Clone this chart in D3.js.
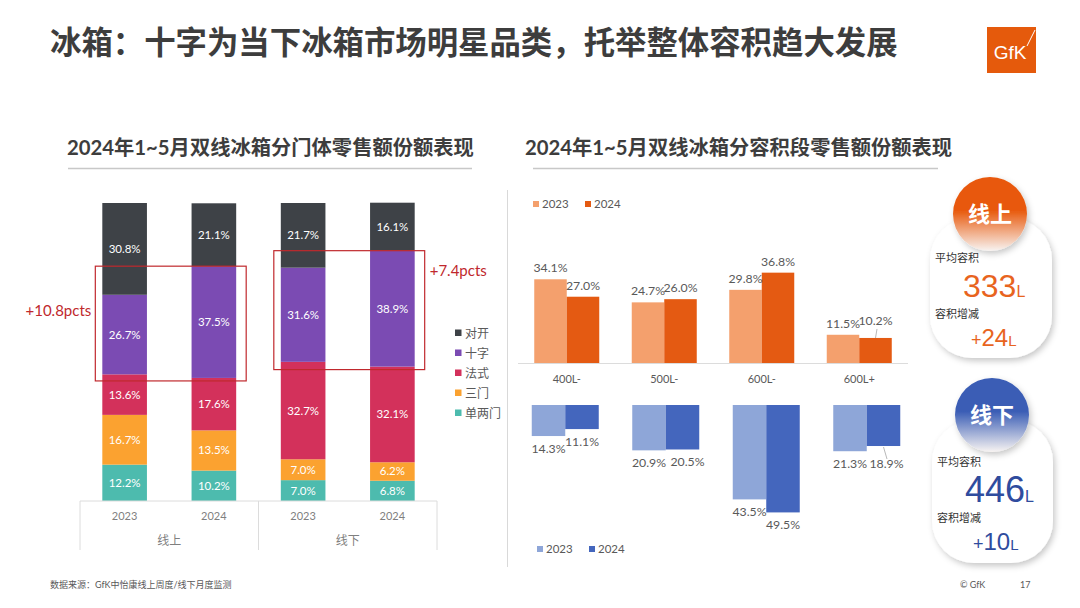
<!DOCTYPE html>
<html><head><meta charset="utf-8">
<script src="https://cdn.jsdelivr.net/npm/d3@7"></script>
<style>body{margin:0;background:#fff;} svg{display:block;font-family:Lato,'Noto Sans CJK SC',sans-serif;}</style>
</head><body><svg id="c" width="1080" height="608"></svg>
<script>
// ---------------- data ----------------
const pageTitle = "冰箱：十字为当下冰箱市场明星品类，托举整体容积趋大发展";
const leftTitle = "2024年1~5月双线冰箱分门体零售额份额表现";
const rightTitle = "2024年1~5月双线冰箱分容积段零售额份额表现";
const channels = ["线上", "线下"];
const years = ["2023", "2024"];
const doorTypes = ["单两门", "三门", "法式", "十字", "对开"]; // bottom -> top
const online2023Door = [12.2, 16.7, 13.6, 26.7, 30.8];
const online2024Door = [10.2, 13.5, 17.6, 37.5, 21.1];
const offline2023Door = [7.0, 7.0, 32.7, 31.6, 21.7];
const offline2024Door = [6.8, 6.2, 32.1, 38.9, 16.1];
const pctsLabels = ["+10.8pcts", "+7.4pcts"];
const sizeSegments = ["400L-", "500L-", "600L-", "600L+"];
const online2023Size = [34.1, 24.7, 29.8, 11.5];
const online2024Size = [27.0, 26.0, 36.8, 10.2];
const offline2023Size = [14.3, 20.9, 43.5, 21.3];
const offline2024Size = [11.1, 20.5, 49.5, 18.9];
const avgVolume = [333, 446];
const volumeChange = [24, 10];
const avgLabel = "平均容积";
const changeLabel = "容积增减";
const sourceNote = "数据来源：GfK中怡康线上周度/线下月度监测";

// ---------------- setup ----------------
const svg = d3.select("#c");
const defs = svg.append("defs");
const grey = "#595959";

// page title
svg.append("text").attr("x", 50).attr("y", 54)
  .attr("font-size", 31.4).attr("font-weight", 700).attr("fill", "#3d3d3d")
  .style("font-family", "'Noto Sans CJK SC',sans-serif").text(pageTitle);

// logo
svg.append("rect").attr("x", 987).attr("y", 27).attr("width", 49).attr("height", 46).attr("fill", "#E55A0C");
svg.append("text").attr("x", 1010).attr("y", 59).attr("text-anchor", "middle")
  .attr("font-size", 19).attr("fill", "#fff").style("font-family", "'Liberation Sans',Arial,sans-serif").text("GfK");
svg.append("line").attr("x1", 1035).attr("y1", 30).attr("x2", 1027).attr("y2", 46).attr("stroke", "#fff").attr("stroke-width", 1);

// section titles
[[leftTitle, 67, 68, 472], [rightTitle, 525, 533, 938]].forEach(([t, tx, l1, l2]) => {
  svg.append("text").attr("x", tx).attr("y", 155).attr("font-size", 20.3).attr("font-weight", 700)
    .attr("fill", "#3d3d3d").text(t);
  svg.append("line").attr("x1", l1).attr("x2", l2).attr("y1", 168.5).attr("y2", 168.5)
    .attr("stroke", "#c8c8c8").attr("stroke-width", 1.5);
});

// divider
svg.append("line").attr("x1", 507.5).attr("x2", 507.5).attr("y1", 190).attr("y2", 567).attr("stroke", "#d9d9d9");

// ---------------- left stacked chart ----------------
const doorSeries = [online2023Door, online2024Door, offline2023Door, offline2024Door];
const rows = [];
channels.forEach((c, ci) => years.forEach((y, yi) => {
  const vals = doorSeries[ci * 2 + yi];
  const r = {key: c + "|" + y, channel: c, year: y};
  doorTypes.forEach((d, di) => r[d] = vals[di]);
  rows.push(r);
}));
const doorColors = d3.scaleOrdinal().domain(doorTypes)
  .range(["#4DBBAE", "#FBA230", "#D3315B", "#7B4BB3", "#3E4247"]);
const xL = d3.scaleBand().domain(rows.map(r => r.key)).range([80, 437]).paddingInner(0.5).paddingOuter(0.25);
const yL = d3.scaleLinear().domain([0, 100]).range([501, 203]);
const stacked = d3.stack().keys(doorTypes)(rows);

const gL = svg.append("g");
stacked.forEach(layer => {
  gL.selectAll(null).data(layer).join("rect")
    .attr("x", d => xL(d.data.key)).attr("width", xL.bandwidth())
    .attr("y", d => yL(d[1])).attr("height", d => yL(d[0]) - yL(d[1]))
    .attr("fill", doorColors(layer.key));
  gL.selectAll(null).data(layer).join("text")
    .attr("x", d => xL(d.data.key) + xL.bandwidth() / 2)
    .attr("y", d => (yL(d[0]) + yL(d[1])) / 2 + 4)
    .attr("text-anchor", "middle").attr("font-size", 11.5).attr("fill", "#fff")
    .text(d => d.data[layer.key].toFixed(1) + "%");
});

// category axis box
const axisCol = "#dcdcdc";
const step = xL.step();
const xStart = xL(rows[0].key) - step * 0.25;
gL.append("line").attr("x1", xStart).attr("x2", xStart + step * 4).attr("y1", yL(0)).attr("y2", yL(0)).attr("stroke", axisCol);
[0, 2, 4].forEach(k => gL.append("line").attr("x1", xStart + step * k).attr("x2", xStart + step * k)
  .attr("y1", yL(0)).attr("y2", 550).attr("stroke", axisCol));
gL.selectAll(null).data(rows).join("text")
  .attr("x", d => xL(d.key) + xL.bandwidth() / 2).attr("y", 520)
  .attr("text-anchor", "middle").attr("font-size", 11).attr("fill", "#7f7f7f").text(d => d.year);
channels.forEach((c, ci) => gL.append("text")
  .attr("x", xStart + step * (2 * ci + 1)).attr("y", 545)
  .attr("text-anchor", "middle").attr("font-size", 12).attr("fill", "#7f7f7f").text(c));

// red boxes around 十字 segments
const crossLayer = stacked.find(s => s.key === "十字");
channels.forEach((c, ci) => {
  const segs = crossLayer.filter(d => d.data.channel === c);
  const top = d3.min(segs, d => yL(d[1]));
  const bot = d3.max(segs, d => yL(d[0])) + 3;
  const x0 = xL(segs[0].data.key) - 7;
  const x1 = xL(segs[1].data.key) + xL.bandwidth() + 10;
  gL.append("rect").attr("x", x0).attr("y", top).attr("width", x1 - x0).attr("height", bot - top)
    .attr("fill", "none").attr("stroke", "#C0282D").attr("stroke-width", 1.2);
  const lab = gL.append("text").attr("font-size", 15).attr("fill", "#C0282D").text(pctsLabels[ci]);
  if (ci === 0) lab.attr("x", x0 - 4).attr("y", top + 50).attr("text-anchor", "end");
  else lab.attr("x", x1 + 5).attr("y", top + 25).attr("text-anchor", "start");
});

// legend left
doorTypes.slice().reverse().forEach((d, i) => {
  const yy = 333 + i * 20;
  gL.append("rect").attr("x", 455).attr("y", yy - 3.5).attr("width", 6.5).attr("height", 6.5).attr("fill", doorColors(d));
  gL.append("text").attr("x", 465).attr("y", yy + 4.5).attr("font-size", 12).attr("fill", grey).text(d);
});

// ---------------- right grouped charts ----------------
function grouped(g, x, y, s23, s24, colors, above) {
  const xy = d3.scaleBand().domain(years).range([0, x.bandwidth()]);
  const data = [];
  sizeSegments.forEach((cat, i) => {
    data.push({cat, year: "2023", v: s23[i], i});
    data.push({cat, year: "2024", v: s24[i], i});
  });
  g.selectAll(null).data(data).join("rect")
    .attr("x", d => x(d.cat) + xy(d.year)).attr("width", xy.bandwidth())
    .attr("y", d => Math.min(y(0), y(d.v))).attr("height", d => Math.abs(y(d.v) - y(0)))
    .attr("fill", d => d.year === "2023" ? colors[0] : colors[1]);
  data.forEach(d => {
    const cx = x(d.cat) + xy(d.year) + xy.bandwidth() / 2;
    const end = y(d.v);
    let ly, lx = cx;
    const crowded = d.i === 3 && d.year === "2024";
    if (above) {
      ly = end - 7 - (crowded ? 6 : 0);
      if (crowded) g.append("line").attr("x1", cx + 1.5).attr("x2", cx).attr("y1", ly + 4).attr("y2", end)
        .attr("stroke", "#a6a6a6").attr("stroke-width", 0.8);
    } else {
      ly = end + 17 + (crowded ? 5 : 0);
      if (crowded) { lx = cx + 3; g.append("line").attr("x1", cx).attr("x2", cx + 3.5).attr("y1", end + 1).attr("y2", ly - 9)
        .attr("stroke", "#a6a6a6").attr("stroke-width", 0.8); }
    }
    if (!above && d.i === 1 && d.year === "2024") lx = cx + 5;
    g.append("text").attr("x", lx).attr("y", ly).attr("text-anchor", "middle")
      .attr("font-size", 12.3).attr("fill", grey).text(d.v.toFixed(1) + "%");
  });
}
function legend(g, x0, yy, colors) {
  years.forEach((yr, i) => {
    const xx = x0 + i * 52;
    g.append("rect").attr("x", xx).attr("y", yy - 3).attr("width", 6).attr("height", 6).attr("fill", colors[i]);
    g.append("text").attr("x", xx + 9).attr("y", yy + 4).attr("font-size", 11.5).attr("fill", grey).text(yr);
  });
}
const orangeCols = ["#F4A06D", "#E45A12"];
const blueCols = ["#8EA6D8", "#4466BD"];
const gR = svg.append("g");
const xT = d3.scaleBand().domain(sizeSegments).range([518, 908]).paddingInner(1 / 3).paddingOuter(1 / 6);
const yT = d3.scaleLinear().domain([0, 50]).range([363, 240.25]);
const xB = d3.scaleBand().domain(sizeSegments).range([515, 917]).paddingInner(1 / 3).paddingOuter(1 / 6);
const yB = d3.scaleLinear().domain([0, 50]).range([405, 513.5]);
grouped(gR, xT, yT, online2023Size, online2024Size, orangeCols, true);
grouped(gR, xB, yB, offline2023Size, offline2024Size, blueCols, false);
gR.append("line").attr("x1", 518).attr("x2", 908).attr("y1", yT(0) + 0.5).attr("y2", yT(0) + 0.5).attr("stroke", axisCol);
gR.selectAll(null).data(sizeSegments).join("text")
  .attr("x", d => xT(d) + xT.bandwidth() / 2).attr("y", 383).attr("text-anchor", "middle")
  .attr("font-size", 11).attr("fill", grey).text(d => d);
legend(gR, 533, 204, orangeCols);
legend(gR, 537, 549, blueCols);

// ---------------- badges ----------------
const shadow = defs.append("filter").attr("id", "sh").attr("x", "-30%").attr("y", "-30%").attr("width", "160%").attr("height", "160%");
shadow.append("feDropShadow").attr("dx", 2).attr("dy", 3).attr("stdDeviation", 3).attr("flood-color", "#000").attr("flood-opacity", 0.22);
const badgeCfg = [
  {cx: 990, cy: 214, card: [930, 218, 122, 140], main: "#E8590C", num: "#E8641E", avgSize: 32, y0: 258},
  {cx: 992, cy: 415, card: [932, 420, 121, 143], main: "#3A5DB5", num: "#2F4C9E", avgSize: 36, y0: 462}
];
channels.forEach((c, i) => {
  const b = badgeCfg[i];
  const gr = defs.append("linearGradient").attr("id", "g" + i).attr("x1", 0).attr("y1", 0).attr("x2", 0).attr("y2", 1);
  gr.append("stop").attr("offset", "0%").attr("stop-color", b.main);
  gr.append("stop").attr("offset", "45%").attr("stop-color", b.main);
  gr.append("stop").attr("offset", "100%").attr("stop-color", "#f8f4f2");
  const [x, y, w, h] = b.card;
  svg.append("rect").attr("x", x).attr("y", y).attr("width", w).attr("height", h).attr("rx", 42)
    .attr("fill", "#fff").attr("filter", "url(#sh)");
  svg.append("circle").attr("cx", b.cx).attr("cy", b.cy).attr("r", 37).attr("fill", `url(#g${i})`).attr("filter", "url(#sh)");
  svg.append("text").attr("x", b.cx).attr("y", b.cy + 8).attr("text-anchor", "middle")
    .attr("font-size", 22).attr("font-weight", 700).attr("fill", "#fff").text(c);
  svg.append("text").attr("x", x + 5).attr("y", b.y0 + 4).attr("font-size", 11).attr("fill", "#333").text(avgLabel);
  const t1 = svg.append("text").attr("x", x + 33).attr("y", b.y0 + 27 + b.avgSize * 0.36)
    .attr("fill", b.num).style("font-family", "'Liberation Sans',Arial,sans-serif");
  t1.append("tspan").attr("font-size", b.avgSize).text(avgVolume[i]);
  t1.append("tspan").attr("font-size", 16).text("L");
  svg.append("text").attr("x", x + 5).attr("y", b.y0 + 60).attr("font-size", 11).attr("fill", "#333").text(changeLabel);
  const t2 = svg.append("text").attr("x", x + 41).attr("y", b.y0 + 88)
    .attr("fill", b.num).style("font-family", "'Liberation Sans',Arial,sans-serif");
  t2.append("tspan").attr("font-size", 18).text("+");
  t2.append("tspan").attr("font-size", 24).text(volumeChange[i]);
  t2.append("tspan").attr("font-size", 15).text("L");
});

// ---------------- footer ----------------
svg.append("text").attr("x", 50).attr("y", 588).attr("font-size", 9).attr("fill", grey).text(sourceNote);
svg.append("text").attr("x", 960).attr("y", 588).attr("font-size", 9).attr("fill", grey).text("© GfK");
svg.append("text").attr("x", 1020).attr("y", 588).attr("font-size", 9).attr("fill", grey).text("17");
</script></body></html>
